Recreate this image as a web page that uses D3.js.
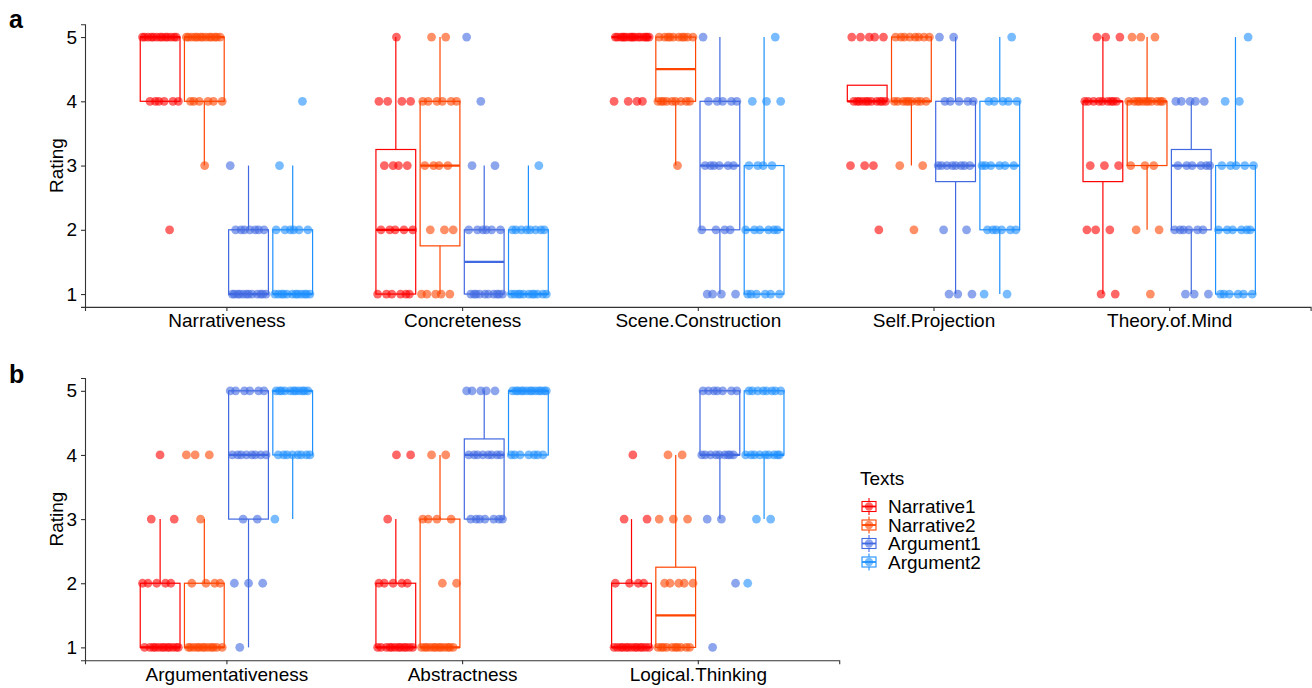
<!DOCTYPE html>
<html>
<head>
<meta charset="utf-8">
<script src="https://cdn.jsdelivr.net/npm/d3@7"></script>
<style>
  body { margin: 0; background: #fff; }
  svg { display: block; }
  text { font-family: "Liberation Sans", Arial, Helvetica, sans-serif; }
</style>
</head>
<body>
<svg id="chart" width="1312" height="688"></svg>
<script>
// Text conditions and their colours
const texts = ["Narrative1", "Narrative2", "Argument1", "Argument2"];
const textColors = ["#FF0000", "#FF4500", "#4169E1", "#1E90FF"];

// Rating scale / tick labels
const ratingLevels = [1, 2, 3, 4, 5];

// Dimensions shown in each panel
const categoriesA = ["Narrativeness", "Concreteness", "Scene.Construction", "Self.Projection", "Theory.of.Mind"];
const categoriesB = ["Argumentativeness", "Abstractness", "Logical.Thinking"];

// Number of raters giving each rating 1..5, one row per text (N1, N2, A1, A2)
const narrativeness     = [[0, 1, 0, 6, 13], [0, 0, 1, 6, 13], [12, 7, 1, 0, 0], [12, 6, 1, 1, 0]];
const concreteness      = [[6, 5, 4, 4, 1], [5, 3, 4, 6, 2], [10, 6, 2, 1, 1], [11, 8, 1, 0, 0]];
const sceneConstruction = [[0, 0, 0, 4, 16], [0, 0, 1, 9, 10], [4, 4, 6, 5, 1], [6, 6, 4, 3, 1]];
const selfProjection    = [[0, 1, 3, 11, 5], [0, 1, 2, 9, 8], [3, 2, 8, 5, 2], [2, 6, 6, 5, 1]];
const theoryOfMind      = [[2, 3, 3, 9, 3], [1, 2, 3, 11, 3], [3, 6, 6, 5, 0], [6, 6, 5, 2, 1]];

const argumentativeness = [[12, 5, 2, 1, 0], [12, 4, 1, 3, 0], [1, 3, 2, 8, 6], [0, 0, 1, 8, 11]];
const abstractness      = [[12, 5, 1, 2, 0], [12, 2, 4, 2, 0], [0, 0, 7, 8, 5], [0, 0, 0, 7, 13]];
const logicalThinking   = [[13, 4, 2, 1, 0], [10, 5, 3, 2, 0], [1, 1, 2, 9, 7], [0, 1, 2, 9, 8]];

const countsA = [narrativeness, concreteness, sceneConstruction, selfProjection, theoryOfMind];
const countsB = [argumentativeness, abstractness, logicalThinking];

const svg = d3.select("#chart");
const FONT = 19;
const AXIS_COLOR = "#333";

// Expand rating counts into the individual (sorted) ratings
function expand(counts) {
  const out = [];
  counts.forEach((c, i) => { for (let k = 0; k < c; k++) out.push(ratingLevels[i]); });
  return out;
}

// Tukey box statistics (R type-7 quantiles, 1.5 IQR whiskers)
function boxStats(values) {
  const v = values.slice().sort(d3.ascending);
  const q1 = d3.quantile(v, 0.25), med = d3.quantile(v, 0.5), q3 = d3.quantile(v, 0.75);
  const iqr = q3 - q1;
  const lo = d3.min(v.filter(d => d >= q1 - 1.5 * iqr));
  const hi = d3.max(v.filter(d => d <= q3 + 1.5 * iqr));
  return { q1, med, q3, lo, hi, values: v };
}

function drawPanel(cfg) {
  const { categories, counts, left, right, top, bottom, tag, tagY } = cfg;
  const g = svg.append("g");

  const x = d3.scalePoint().domain(categories).range([left, right]).padding(0.6);
  const y = d3.scaleLinear().domain([0.8, 5.2]).range([bottom, top]);

  const step = x.step();
  const slot = step * 0.75 / texts.length;
  const boxW = slot * 0.9;
  const halfJitter = slot * 0.42;

  const boxLayer = g.append("g");
  const pointLayer = g.append("g");

  categories.forEach((cat, ci) => {
    counts[ci].forEach((row, ti) => {
      const values = expand(row);
      const s = boxStats(values);
      const cx = x(cat) + (ti - (texts.length - 1) / 2) * slot;
      const col = textColors[ti];
      const bg = boxLayer.append("g");

      // whiskers
      bg.append("line").attr("x1", cx).attr("x2", cx)
        .attr("y1", y(s.q3)).attr("y2", y(s.hi))
        .attr("stroke", col).attr("stroke-width", 1.2);
      bg.append("line").attr("x1", cx).attr("x2", cx)
        .attr("y1", y(s.q1)).attr("y2", y(s.lo))
        .attr("stroke", col).attr("stroke-width", 1.2);
      // box
      bg.append("rect")
        .attr("x", cx - boxW / 2).attr("width", boxW)
        .attr("y", y(s.q3)).attr("height", Math.max(0, y(s.q1) - y(s.q3)))
        .attr("fill", "#fff").attr("stroke", col).attr("stroke-width", 1.2);
      // median
      bg.append("line")
        .attr("x1", cx - boxW / 2).attr("x2", cx + boxW / 2)
        .attr("y1", y(s.med)).attr("y2", y(s.med))
        .attr("stroke", col).attr("stroke-width", 2.2);

      // jittered points (deterministic low-discrepancy spread within the slot)
      const seed = ((ci * 4 + ti + 1) * 0.7548776662) % 1;
      s.values.forEach((v, j) => {
        const u = (j * 0.6180339887 + seed) % 1;
        pointLayer.append("circle")
          .attr("cx", cx + (u - 0.5) * 2 * halfJitter)
          .attr("cy", y(v))
          .attr("r", 4.4)
          .attr("fill", col)
          .attr("fill-opacity", 0.6);
      });
    });
  });

  // axes
  const yAxis = g.append("g").attr("transform", `translate(${left},0)`)
    .call(d3.axisLeft(y).tickValues(ratingLevels).tickFormat(d3.format("d")).tickSizeOuter(0).tickSize(4).tickPadding(4));
  const xAxis = g.append("g").attr("transform", `translate(0,${bottom})`)
    .call(d3.axisBottom(x).tickSizeOuter(0).tickSize(4).tickPadding(3));
  [yAxis, xAxis].forEach(a => {
    a.select(".domain").attr("stroke", AXIS_COLOR).attr("stroke-width", 1.1);
    a.selectAll(".tick line").attr("stroke", AXIS_COLOR).attr("stroke-width", 1.1);
    a.selectAll(".tick text").attr("fill", "#000").style("font-size", FONT + "px")
      .style("font-family", '"Liberation Sans", Arial, sans-serif');
  });

  // y title
  g.append("text")
    .attr("transform", `translate(63,${(top + bottom) / 2}) rotate(-90)`)
    .attr("text-anchor", "middle")
    .style("font-size", FONT + "px")
    .text("Rating");

  // panel tag
  g.append("text").attr("x", 9).attr("y", tagY)
    .style("font-size", "25px").style("font-weight", "bold")
    .text(tag);
}

const axisLeft = 85;
const stepWidth = (1310.6 - axisLeft) / (categoriesA.length + 0.2);

drawPanel({
  categories: categoriesA, counts: countsA,
  left: axisLeft, right: axisLeft + stepWidth * (categoriesA.length + 0.2),
  top: 24.2, bottom: 306.9, tag: "a", tagY: 28
});
drawPanel({
  categories: categoriesB, counts: countsB,
  left: axisLeft, right: axisLeft + stepWidth * (categoriesB.length + 0.2),
  top: 378, bottom: 660.2, tag: "b", tagY: 383
});

// legend
const legend = svg.append("g").attr("transform", "translate(860,0)");
legend.append("text").attr("x", 0).attr("y", 485)
  .style("font-size", FONT + "px").text("Texts");
texts.forEach((t, i) => {
  const cy = 506.5 + i * 18.5;
  const col = textColors[i];
  const k = legend.append("g").attr("transform", `translate(9,${cy})`);
  k.append("line").attr("x1", 0).attr("x2", 0).attr("y1", -8.5).attr("y2", 8.5)
    .attr("stroke", col).attr("stroke-width", 1.1);
  k.append("rect").attr("x", -7).attr("y", -5).attr("width", 14).attr("height", 10)
    .attr("fill", "#fff").attr("stroke", col).attr("stroke-width", 1.1);
  k.append("line").attr("x1", -7).attr("x2", 7).attr("y1", 0).attr("y2", 0)
    .attr("stroke", col).attr("stroke-width", 1.8);
  k.append("circle").attr("r", 4.2).attr("fill", col).attr("fill-opacity", 0.6);
  legend.append("text").attr("x", 28).attr("y", cy + 6.8)
    .style("font-size", FONT + "px").text(t);
});
</script>
</body>
</html>
